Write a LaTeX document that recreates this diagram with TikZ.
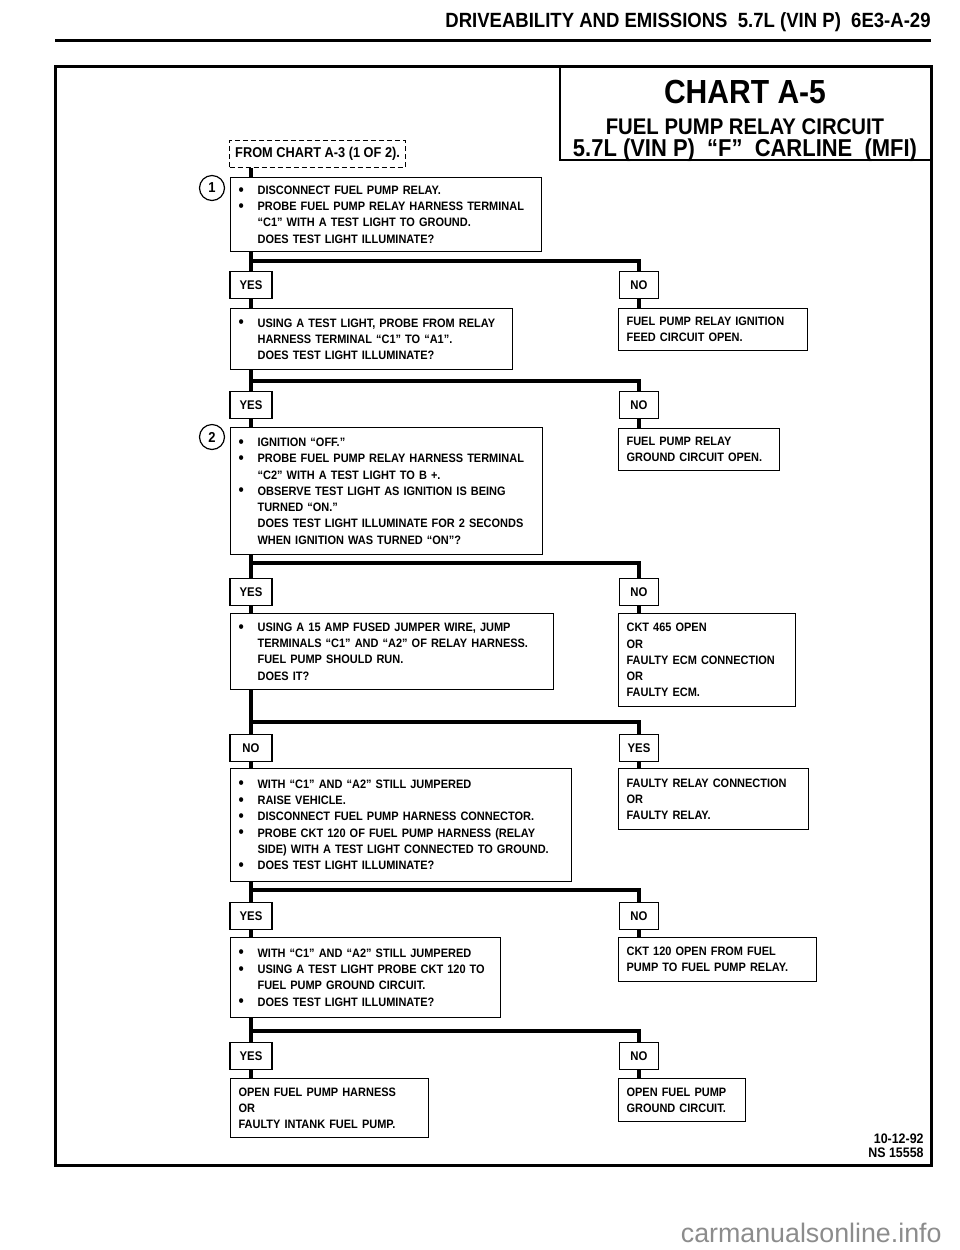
\documentclass[tikz,border=0pt]{standalone}
\usepackage{fontspec}
\setmainfont{Liberation Sans}[FakeStretch=0.9]
\newfontfamily\markfont{Liberation Sans}
\usepackage{tikz}
\usetikzlibrary{positioning}
\newcommand{\dotitem}{\makebox[9.5pt][l]{\raisebox{-0.1ex}{\scalebox{1.35}{\textbullet}}}}
\newcommand{\contline}{\hspace*{9.5pt}}
\newcommand{\boxfont}{\fontsize{6.1}{8.15}\selectfont\bfseries\hyphenpenalty=10000\relax\spaceskip=0.24em plus 0.1em\relax}

\begin{document}
\begin{tikzpicture}[x=0.5pt,y=-0.5pt,
	wire/.style={line width=1.9pt},
	box/.style={draw,line width=0.6pt,fill=white,anchor=north west,align=left,inner xsep=4pt,inner ysep=0pt,font=\boxfont},
	answer/.style={draw,line width=0.6pt,fill=white,anchor=north,minimum height=13.5pt,inner sep=0pt,font=\fontsize{6.3}{7}\selectfont\bfseries},
	leftans/.style={answer,minimum width=21pt},
	rightans/.style={answer,minimum width=19.5pt},
	stepnum/.style={draw,circle,line width=0.6pt,minimum size=12.5pt,inner sep=0pt,font=\fontsize{7.2}{8}\selectfont\bfseries}]
	\useasboundingbox (0,0) rectangle (960,1250);
	% page head
	\node[anchor=east,inner sep=0pt,font=\fontsize{10.3}{11}\selectfont\bfseries] (head) at (931,22) {DRIVEABILITY AND EMISSIONS\ \ 5.7L (VIN P)\ \ 6E3-A-29};
	\draw[line width=1.5pt] (55,40) -- (931,40);
	\draw[line width=1.5pt] (55,66) rectangle (931,1165);
	% title block
	\draw[line width=1.2pt] (560,66) |- (931,160);
	\node[font=\fontsize{16.7}{18}\selectfont\bfseries] (chart) at (745,92) {CHART A-5};
	\node[font=\fontsize{11.3}{12}\selectfont\bfseries] (title1) at (745,127) {FUEL PUMP RELAY CIRCUIT};
	\node[font=\fontsize{12.2}{13}\selectfont\bfseries] (title2) at (745,150) {5.7L (VIN P)\ \ “F”\ \ CARLINE\ \ (MFI)};
	% entry
	\node[draw,dashed,dash pattern=on 2.5pt off 1.5pt,line width=0.6pt,anchor=north west,minimum width=88pt,minimum height=12pt,inner xsep=2pt,font=\fontsize{7.1}{8}\selectfont\bfseries] (from) at (229,140) {FROM CHART A-3 (1 OF 2).};
	\node[stepnum] (n1) at (212,188) {1};
	\node[stepnum] (n2) at (212,437) {2};
	% split points
	\coordinate (s1) at (251,261);
	\coordinate (s2) at (251,381);
	\coordinate (s3) at (251,563);
	\coordinate (s4) at (251,722);
	\coordinate (s5) at (251,890);
	\coordinate (s6) at (251,1031);
	% test boxes
	\node[box,text width=147.5pt,minimum height=37pt] (q1) at (230,177) {\dotitem DISCONNECT FUEL PUMP RELAY.\\ \dotitem PROBE FUEL PUMP RELAY HARNESS TERMINAL\\ \contline “C1” WITH A TEST LIGHT TO GROUND.\\ \contline DOES TEST LIGHT ILLUMINATE?};
	\node[box,text width=133pt,minimum height=30.5pt] (q2) at (230,308) {\dotitem USING A TEST LIGHT, PROBE FROM RELAY\\ \contline HARNESS TERMINAL “C1” TO “A1”.\\ \contline DOES TEST LIGHT ILLUMINATE?};
	\node[box,text width=148pt,minimum height=63.5pt] (q3) at (230,427) {\dotitem IGNITION “OFF.”\\ \dotitem PROBE FUEL PUMP RELAY HARNESS TERMINAL\\ \contline “C2” WITH A TEST LIGHT TO B +.\\ \dotitem OBSERVE TEST LIGHT AS IGNITION IS BEING\\ \contline TURNED “ON.”\\ \contline DOES TEST LIGHT ILLUMINATE FOR 2 SECONDS\\ \contline WHEN IGNITION WAS TURNED “ON”?};
	\node[box,text width=153.5pt,minimum height=38pt] (q4) at (230,613) {\dotitem USING A 15 AMP FUSED JUMPER WIRE, JUMP\\ \contline TERMINALS “C1” AND “A2” OF RELAY HARNESS.\\ \contline FUEL PUMP SHOULD RUN.\\ \contline DOES IT?};
	\node[box,text width=162.5pt,minimum height=56.5pt] (q5) at (230,768) {\dotitem WITH “C1” AND “A2” STILL JUMPERED\\ \dotitem RAISE VEHICLE.\\ \dotitem DISCONNECT FUEL PUMP HARNESS CONNECTOR.\\ \dotitem PROBE CKT 120 OF FUEL PUMP HARNESS (RELAY\\ \contline SIDE) WITH A TEST LIGHT CONNECTED TO GROUND.\\ \dotitem DOES TEST LIGHT ILLUMINATE?};
	\node[box,text width=127pt,minimum height=40pt] (q6) at (230,937) {\dotitem WITH “C1” AND “A2” STILL JUMPERED\\ \dotitem USING A TEST LIGHT PROBE CKT 120 TO\\ \contline FUEL PUMP GROUND CIRCUIT.\\ \dotitem DOES TEST LIGHT ILLUMINATE?};
	% result boxes
	\node[box,text width=86.5pt,minimum height=21pt] (r1) at (618,308) {FUEL PUMP RELAY IGNITION\\ FEED CIRCUIT OPEN.};
	\node[box,text width=72.5pt,minimum height=21pt] (r2) at (618,428) {FUEL PUMP RELAY\\ GROUND CIRCUIT OPEN.};
	\node[box,text width=80.5pt,minimum height=46.5pt] (r3) at (618,613) {CKT 465 OPEN\\ OR\\ FAULTY ECM CONNECTION\\ OR\\ FAULTY ECM.};
	\node[box,text width=87pt,minimum height=30.5pt] (r4) at (618,768) {FAULTY RELAY CONNECTION\\ OR\\ FAULTY RELAY.};
	\node[box,text width=91pt,minimum height=22pt] (r5) at (618,937) {CKT 120 OPEN FROM FUEL\\ PUMP TO FUEL PUMP RELAY.};
	\node[box,text width=91pt,minimum height=29.5pt] (r6) at (230,1078) {OPEN FUEL PUMP HARNESS\\ OR\\ FAULTY INTANK FUEL PUMP.};
	\node[box,text width=55.5pt,minimum height=21.5pt] (r7) at (618,1078) {OPEN FUEL PUMP\\ GROUND CIRCUIT.};
	% answers
	\node[leftans] (yes1) at (251,271) {YES};
	\node[rightans] (no1) at (639,271) {NO};
	\node[leftans] (yes2) at (251,391) {YES};
	\node[rightans] (no2) at (639,391) {NO};
	\node[leftans] (yes3) at (251,578) {YES};
	\node[rightans] (no3) at (639,578) {NO};
	\node[leftans] (no4) at (251,734) {NO};
	\node[rightans] (yes4) at (639,734) {YES};
	\node[leftans] (yes5) at (251,902) {YES};
	\node[rightans] (no5) at (639,902) {NO};
	\node[leftans] (yes6) at (251,1042) {YES};
	\node[rightans] (no6) at (639,1042) {NO};
	% connectors
	\draw[wire] (from.south -| s1) -- (q1.north -| s1);
	\draw[wire] (q1.south -| s1) -- (yes1.north);
	\draw[wire] (s1) -| (no1.north);
	\draw[wire] (yes1.south) -- (q2.north -| yes1.south);
	\draw[wire] (no1.south) -- (r1.north -| no1.south);
	\draw[wire] (q2.south -| s2) -- (yes2.north);
	\draw[wire] (s2) -| (no2.north);
	\draw[wire] (yes2.south) -- (q3.north -| yes2.south);
	\draw[wire] (no2.south) -- (r2.north -| no2.south);
	\draw[wire] (q3.south -| s3) -- (yes3.north);
	\draw[wire] (s3) -| (no3.north);
	\draw[wire] (yes3.south) -- (q4.north -| yes3.south);
	\draw[wire] (no3.south) -- (r3.north -| no3.south);
	\draw[wire] (q4.south -| s4) -- (no4.north);
	\draw[wire] (s4) -| (yes4.north);
	\draw[wire] (no4.south) -- (q5.north -| no4.south);
	\draw[wire] (yes4.south) -- (r4.north -| yes4.south);
	\draw[wire] (q5.south -| s5) -- (yes5.north);
	\draw[wire] (s5) -| (no5.north);
	\draw[wire] (yes5.south) -- (q6.north -| yes5.south);
	\draw[wire] (no5.south) -- (r5.north -| no5.south);
	\draw[wire] (q6.south -| s6) -- (yes6.north);
	\draw[wire] (s6) -| (no6.north);
	\draw[wire] (yes6.south) -- (r6.north -| yes6.south);
	\draw[wire] (no6.south) -- (r7.north -| no6.south);
	% footer
	\node[anchor=north east,align=right,inner sep=0pt,font=\fontsize{6.9}{7}\selectfont\bfseries] (stamp) at (924,1133) {10-12-92\\NS 15558};
	\node[anchor=east,inner sep=0pt,text=black!45,font=\markfont\fontsize{13.4}{14}\selectfont] (mark) at (942,1233) {carmanualsonline.info};
\end{tikzpicture}
\end{document}
